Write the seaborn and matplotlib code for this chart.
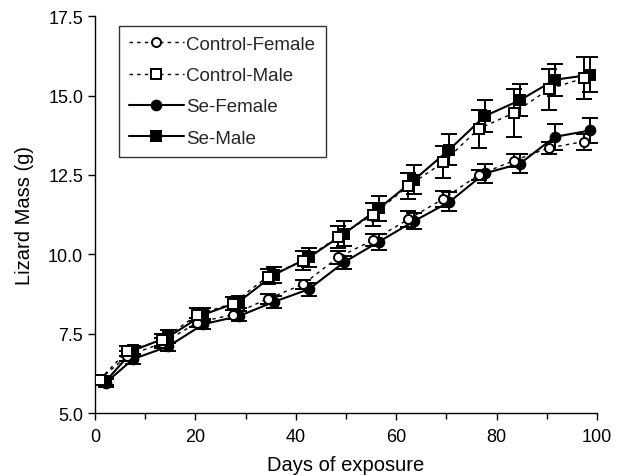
import numpy as np
import pandas as pd
import matplotlib
matplotlib.use("Agg")
import matplotlib.pyplot as plt
import seaborn as sns

# Sampling days (weekly weighings)
days = [1.5, 7, 14, 21, 28, 35, 42, 49, 56, 63, 70, 77, 84, 91, 98]

# Mean body mass (g) per group
control_female = [6.05, 6.8, 7.2, 7.85, 8.1, 8.6, 9.05, 9.9, 10.45, 11.1, 11.75, 12.5, 12.95, 13.35, 13.55]
control_male = [6.05, 6.95, 7.3, 8.1, 8.45, 9.3, 9.8, 10.55, 11.25, 12.15, 12.9, 13.95, 14.45, 15.2, 15.55]
se_female = [5.95, 6.7, 7.1, 7.8, 8.05, 8.5, 8.9, 9.75, 10.4, 11.05, 11.65, 12.55, 12.85, 13.7, 13.9]
se_male = [6.0, 6.97, 7.4, 8.1, 8.5, 9.35, 9.9, 10.65, 11.45, 12.35, 13.3, 14.35, 14.85, 15.5, 15.65]

# Standard errors
control_female_se = [0.12, 0.15, 0.15, 0.15, 0.15, 0.15, 0.15, 0.2, 0.2, 0.25, 0.25, 0.15, 0.2, 0.2, 0.25]
control_male_se = [0.12, 0.15, 0.2, 0.2, 0.2, 0.25, 0.3, 0.35, 0.35, 0.4, 0.5, 0.6, 0.75, 0.65, 0.65]
se_female_se = [0.12, 0.15, 0.15, 0.15, 0.15, 0.2, 0.2, 0.2, 0.25, 0.25, 0.3, 0.3, 0.3, 0.4, 0.4]
se_male_se = [0.12, 0.15, 0.2, 0.2, 0.2, 0.25, 0.3, 0.4, 0.4, 0.45, 0.5, 0.5, 0.5, 0.5, 0.55]

sns.set_style("ticks")
plt.rcParams["font.family"] = ["Liberation Sans", "DejaVu Sans"]

fig = plt.figure(figsize=(6.42, 4.77), dpi=100)
ax = fig.add_axes([0.148, 0.132, 0.782, 0.832])

day_arr = np.array(days)
series = [
    ("Se-Female", day_arr + 0.6, se_female, se_female_se, "o", "black", "-", 1.5, 7),
    ("Se-Male", day_arr + 0.6, se_male, se_male_se, "s", "black", "-", 1.5, 7),
    ("Control-Female", day_arr - 0.6, control_female, control_female_se, "o", "white", (0, (2.5, 3)), 1.0, 6.5),
    ("Control-Male", day_arr - 0.6, control_male, control_male_se, "s", "white", (0, (2.5, 3)), 1.0, 7),
]

for name, x, y, err, mk, fc, ls, lw, ms in series:
    ax.errorbar(x, y, yerr=err, fmt="none", ecolor="black", elinewidth=1.4,
                capsize=6, capthick=1.4, zorder=2)
    df = pd.DataFrame({"day": x, "mass": y})
    sns.lineplot(data=df, x="day", y="mass", ax=ax, color="black",
                 linestyle=ls, linewidth=lw, marker=mk, markersize=ms,
                 markerfacecolor=fc, markeredgecolor="black",
                 markeredgewidth=1.4, label=name, zorder=3, estimator=None,
                 errorbar=None)

ax.set_xlim(0, 100)
ax.set_ylim(5.0, 17.5)
ax.set_xticks(np.arange(0, 101, 20))
ax.set_xticks(np.arange(10, 100, 20), minor=True)
ax.set_yticks(np.arange(5.0, 17.6, 2.5))
ax.yaxis.set_major_formatter(matplotlib.ticker.FormatStrFormatter("%.1f"))
ax.tick_params(axis="both", which="major", labelsize=13, length=5, width=1,
               color="black", labelcolor="black")
ax.tick_params(axis="x", which="major", pad=6)
ax.tick_params(axis="x", which="minor", length=4, width=1, color="black")
for s in ["top", "right"]:
    ax.spines[s].set_visible(False)
for s in ["left", "bottom"]:
    ax.spines[s].set_color("black")
    ax.spines[s].set_linewidth(1)

ax.set_xlabel("Days of exposure", fontsize=14.5, color="black", labelpad=7)
ax.set_ylabel("Lizard Mass (g)", fontsize=14.5, color="black", labelpad=10)

h, l = ax.get_legend_handles_labels()
order = ["Control-Female", "Control-Male", "Se-Female", "Se-Male"]
hd = dict(zip(l, h))
leg = ax.legend([hd[k] for k in order], order, loc="upper left",
                bbox_to_anchor=(0.029, 1.0), fontsize=13.5, frameon=True,
                fancybox=False, edgecolor="black", handlelength=2.9,
                labelspacing=0.75, borderpad=0.55, handletextpad=0.15)
leg.get_frame().set_linewidth(1)

fig.savefig("out.png", dpi=100, facecolor="white")
